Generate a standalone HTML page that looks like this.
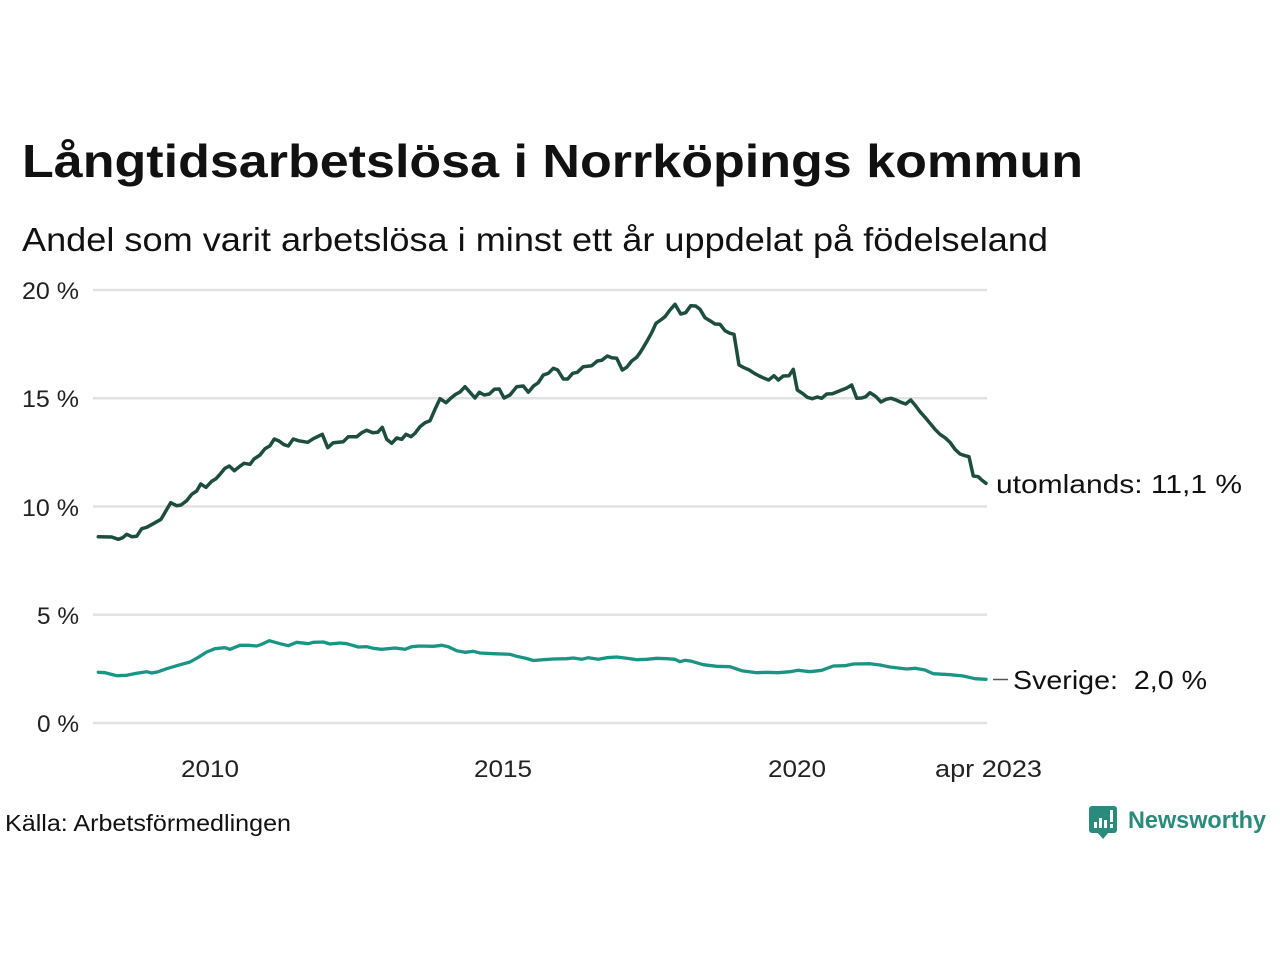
<!DOCTYPE html>
<html><head><meta charset="utf-8"><style>
html,body{margin:0;padding:0;background:#fff;}
svg{display:block;}
text{font-family:"Liberation Sans",sans-serif;}
</style></head><body>
<svg width="1280" height="960" viewBox="0 0 1280 960" xmlns="http://www.w3.org/2000/svg">
<rect width="1280" height="960" fill="#fff"/>
<text x="22" y="177" font-size="46.5" font-weight="bold" fill="#111" textLength="1061" lengthAdjust="spacingAndGlyphs">Långtidsarbetslösa i Norrköpings kommun</text>
<text x="22" y="251" font-size="33.5" fill="#111" textLength="1026" lengthAdjust="spacingAndGlyphs">Andel som varit arbetslösa i minst ett år uppdelat på födelseland</text>
<g stroke="#e2e2e2" stroke-width="2.5">
<line x1="93" y1="290" x2="987" y2="290"/>
<line x1="93" y1="398.25" x2="987" y2="398.25"/>
<line x1="93" y1="506.5" x2="987" y2="506.5"/>
<line x1="93" y1="614.75" x2="987" y2="614.75"/>
<line x1="93" y1="723" x2="987" y2="723"/>
</g>
<g font-size="24.5" fill="#222">
<text x="22" y="299" textLength="57" lengthAdjust="spacingAndGlyphs">20 %</text>
<text x="22" y="407" textLength="57" lengthAdjust="spacingAndGlyphs">15 %</text>
<text x="22" y="516" textLength="57" lengthAdjust="spacingAndGlyphs">10 %</text>
<text x="37" y="624" textLength="42" lengthAdjust="spacingAndGlyphs">5 %</text>
<text x="37" y="732" textLength="42" lengthAdjust="spacingAndGlyphs">0 %</text>
</g>
<g font-size="24.5" fill="#222">
<text x="181" y="777" textLength="58" lengthAdjust="spacingAndGlyphs">2010</text>
<text x="474" y="777" textLength="58" lengthAdjust="spacingAndGlyphs">2015</text>
<text x="768" y="777" textLength="58" lengthAdjust="spacingAndGlyphs">2020</text>
<text x="935" y="777" textLength="107" lengthAdjust="spacingAndGlyphs">apr 2023</text>
</g>
<polyline fill="none" stroke="#1a9585" stroke-width="3.3" stroke-linejoin="round" stroke-linecap="round" points="98.3,672.3 105,672.7 110,674 116.7,675.7 126.7,675.3 136.7,673.3 146.7,671.7 151.7,673 158.3,671.7 166.7,668.7 176.7,665.7 190,662 198.3,657.3 206.7,652 215,648.7 225,647.7 230,649.3 240,645.3 248.3,645.3 256.7,646 261.7,644.3 269.3,640.7 280,643.7 288.3,645.7 296.7,642.3 308.3,643.7 313.3,642.3 323.3,642 330,644 340,643 346.7,643.7 358.3,647 366.7,646.7 373.3,648.3 381.7,649.3 395,648 405,649.3 411.7,646.7 420,646 433.3,646.3 441.7,645.3 448.3,646.7 456.7,650.7 465,652.3 473.3,651.3 480,653 493.3,653.7 510,654.3 516.7,656.3 526.7,658.5 533.3,660.5 543.3,659.7 553.3,659 566.7,658.7 573.3,658 581.7,659.3 588.3,657.7 598.3,659.3 606.7,657.7 616.7,657 626.7,658.3 636.7,659.7 646.7,659.3 656.7,658.3 666.7,658.7 675,659.3 680,661.7 685,660.3 691.7,661.3 703.3,664.7 716.7,666.3 730,666.7 741.7,670.7 756.7,672.7 766.7,672.3 778.3,672.7 790,671.7 798.3,670.3 810,671.7 821.7,670.3 833.3,666 845,665.7 853.3,664 870,663.7 880,665 890,667 906.7,669 915,668.3 925,670 933.3,673.7 950,674.7 963.3,676 975,678.7 986,679.3"/>
<polyline fill="none" stroke="#1d4d3e" stroke-width="3.5" stroke-linejoin="round" stroke-linecap="round" points="98.3,536.7 111.7,537 118.3,539.3 122.7,537.7 126.7,534.3 131.7,536.7 136.7,536.3 141.7,528.7 146.7,527.3 153.3,523.7 161,519.3 170.7,502.7 176.7,505.7 181,505 186.7,500.7 191.7,494.3 196.7,491 200.7,484 206,487.3 211.7,481.3 216,478.7 220,474.3 225,468.3 229.3,466 234.3,470.7 239.3,466.7 244,463.3 250,464.3 254,459 260,455 265,448.7 270,445.7 274.3,439 279,441 284,444.7 288.3,446 293.3,439 298.3,440.7 307.7,442.3 313.3,438.7 322.3,434.3 327.7,447.7 333.3,442.7 343.3,441.7 348.3,436.7 356.7,436.7 361.7,432.7 366.7,430.3 372.7,432.7 377.7,432.3 382.3,427.3 386.7,439.3 391.7,443.3 396.7,438 401.7,439.3 406,434.3 411,436.7 415,433.3 420,426.7 425,422.7 430,420.7 435,409.3 440,398.7 446,402.7 450.7,398.3 455.7,394.3 460,392 465,386.7 470,392.3 475,398 479.3,392.3 484.3,395 489.3,394 494.3,389.3 499.3,389 504,398 510,395 516.7,386.7 523.3,386 528.3,392.2 533.3,386.2 538.3,382.7 543.3,375 548.3,373.3 553.3,368.3 557.7,370 563.3,379 567.7,379 572.7,373.3 577.3,372.3 583.3,366.7 591.7,365.7 597.3,361 601.7,360.3 607.3,356 611.7,357.7 616.7,358.3 622.3,370 626.7,367.3 631.7,361 636.7,357.3 640.7,351.7 646.7,341.7 651.7,332.7 656,323.3 660.7,320 665,316.7 670,310 675,304.3 680.7,314 685.7,312.7 690.7,305.7 695.7,306 700,309.3 705,317.7 710,320.7 715,324 720,324.3 725,330.7 730,333.3 734,334.3 739,365 744,367.7 749.3,370 754.3,373.3 759.3,376 764.3,378.3 768.7,380 774,375.7 778.3,380 783.3,376 789,375.7 793.3,369.3 797.3,390 802.3,393.3 807.3,397.3 812.3,398.7 817.3,397 821.7,398.3 826.7,394 832.3,393.7 841.7,390 846.7,388 851.7,385 856.7,398.3 861.7,398 865.7,396.7 870,392.7 876,396.7 881,402 886,399.3 891,398.3 896,400 901,402.3 905.7,404 910.7,400 915,405 920,411.7 925,417.3 930,423.3 935,429.3 940,434.3 945,437.7 950,442.3 955,449.3 960,454 965,455.7 969,456.7 973.3,476 978.3,476.7 981.7,480 986,483.3"/>
<text x="996" y="493" font-size="26" fill="#111" textLength="246" lengthAdjust="spacingAndGlyphs">utomlands: 11,1 %</text>
<line x1="993" y1="679.5" x2="1008" y2="679.5" stroke="#555" stroke-width="1.5"/>
<text x="1013" y="689" font-size="26" fill="#111" textLength="194" lengthAdjust="spacingAndGlyphs" xml:space="preserve">Sverige:  2,0 %</text>
<text x="5" y="831" font-size="23" fill="#111" textLength="286" lengthAdjust="spacingAndGlyphs">Källa: Arbetsförmedlingen</text>
<g>
<rect x="1089" y="806" width="28" height="27" rx="3" fill="#2a8a7c"/>
<polygon points="1097,832 1109,832 1103,839" fill="#2a8a7c"/>
<rect x="1094" y="822" width="3" height="6" fill="#fff"/>
<rect x="1099" y="818" width="3" height="10" fill="#fff"/>
<rect x="1104" y="820" width="3" height="8" fill="#fff"/>
<rect x="1110" y="810" width="3" height="12" fill="#fff"/>
<rect x="1110" y="824" width="3" height="4" fill="#fff"/>
</g>
<text x="1128" y="828" font-size="24" font-weight="bold" fill="#2a8a7c" textLength="138" lengthAdjust="spacingAndGlyphs">Newsworthy</text>
</svg>
</body></html>
